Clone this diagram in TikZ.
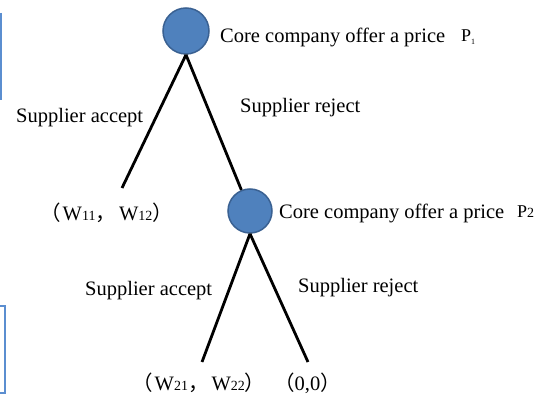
\documentclass[tikz,border=0pt]{standalone}
\usepackage{fontspec}
\setmainfont{Liberation Serif}
\newfontfamily\cjk{Noto Sans CJK SC}
\newcommand{\idx}[1]{{\fontsize{14}{16}\selectfont #1}}
\begin{document}
\begin{tikzpicture}[x=1pt,y=-1pt,
  decision/.style={circle,draw=nodeedge,fill=nodeblue,line width=1.5pt,minimum size=46pt,inner sep=0pt},
  branch/.style={line width=2.8pt,black},
  lbl/.style={font=\fontsize{20.5}{24}\selectfont,inner sep=0pt,anchor=west},
  price/.style={font=\fontsize{18}{20}\selectfont,inner sep=0pt,anchor=base west},
  frame/.style={draw=frameblue,line width=1.5pt}]
\definecolor{nodeblue}{HTML}{4F81BD}
\definecolor{nodeedge}{HTML}{3A6192}
\definecolor{frameblue}{HTML}{5B8ED0}
\useasboundingbox (0,0) rectangle (552,396);
% fragments of neighbouring frames at the left edge
\draw[frame] (1,13) -- (1,100);
\draw[frame] (0,306) -- (5,306) -- (5,393) -- (0,393);
% decision nodes
\node[decision] (c1) at (186,31) {};
\node[decision,minimum size=44pt] (c2) at (250,211) {};
% leaf ends
\coordinate (l1) at (122,188);
\coordinate (l2) at (202,362);
\coordinate (l3) at (308,362);
% branches
\draw[branch] (c1.south) -- (l1);
\draw[branch] (c1.south) -- (c2);
\draw[branch] (c2.south) -- (l2);
\draw[branch] (c2.south) -- (l3);
% labels
\node[lbl] (t1) at (220,37) {Core company offer a price};
\node[price] (p1) at (461,42) {P\raisebox{-2pt}{\fontsize{8}{9}\selectfont 1}};
\node[lbl] (a1) at (16,118) {Supplier accept};
\node[lbl] (r1) at (240,108) {Supplier reject};
\node[lbl] (w1) at (40,213) {{\cjk （}\kern2pt W\idx{11}{\cjk ，}\kern3pt W\idx{12}{\cjk ）}};
\node[lbl] (t2) at (279,213) {Core company offer a price};
\node[price] (p2) at (517,217) {P\idx{2}};
\node[lbl] (a2) at (85,291) {Supplier accept};
\node[lbl] (r2) at (298,288) {Supplier reject};
\node[lbl] (w2) at (132,383) {{\cjk （}\kern2pt W\idx{21}{\cjk ，}\kern3pt W\idx{22}{\cjk ）}};
\node[lbl] (z) at (274,383) {{\cjk （}0,0{\cjk ）}};
\end{tikzpicture}
\end{document}
